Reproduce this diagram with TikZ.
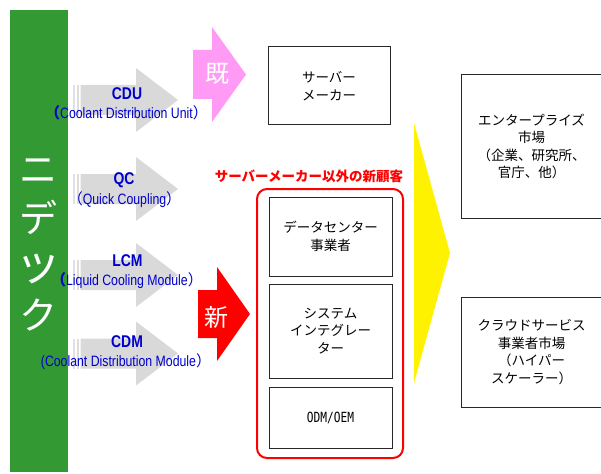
\documentclass[tikz,border=0pt]{standalone}
\usepackage{fontspec}
\setmainfont{Liberation Sans}
\newfontfamily\jp{Noto Sans CJK JP}
\newfontfamily\narrowsans[FakeStretch=0.82]{Liberation Sans}
\newfontfamily\odmfont[FakeStretch=0.8]{DejaVu Sans Mono}
\definecolor{nidecgreen}{RGB}{51,153,51}
\definecolor{arrowgray}{RGB}{217,217,217}
\definecolor{pinkc}{RGB}{255,155,245}
\definecolor{lblblue}{RGB}{0,0,204}
\definecolor{boxline}{RGB}{40,40,40}
\begin{document}
\begin{tikzpicture}[x=1pt,y=-1pt,
  abbr/.style={font=\narrowsans\bfseries\fontsize{17}{17}\selectfont, text=lblblue, inner sep=0pt},
  subl/.style={font=\narrowsans\fontsize{15}{15}\selectfont, text=lblblue, inner sep=0pt},
  jbox/.style={draw=boxline, line width=1pt, align=center, fill=white,
    font=\jp\fontsize{13.5}{17.5}\selectfont, inner sep=0pt},
  bigkanji/.style={font=\jp\fontsize{24}{24}\selectfont, text=white, inner sep=0pt},
  groupbox/.style={draw=red, line width=2pt, rounded corners=10pt, inner sep=0pt}
]
\useasboundingbox (0,0) rectangle (601,473);
% green bar
\fill[nidecgreen] (10,10) rectangle (68,472);
\node[font=\jp\fontsize{38}{48.5}\selectfont, text=white, align=center, inner sep=0pt] (nidec) at (39,245) {ニ\\デ\\{\fontsize{46}{48.5}\selectfont ッ}\\ク};
% gray arrows
\foreach \cy in {100,189,275,353.5}{
  \fill[arrowgray!80] (73,\cy-15) rectangle (75,\cy+15);
  \fill[arrowgray!90] (76.5,\cy-15) rectangle (79,\cy+15);
  \fill[arrowgray] (80.5,\cy-15) -- (136,\cy-15) -- (136,\cy-32) -- (178,\cy)
     -- (136,\cy+32) -- (136,\cy+15) -- (80.5,\cy+15) -- cycle;
}
\node[abbr] (cdu) at (127,93.5) {CDU};
\node[subl] (cdusub) at (126.5,112.5) {{\jp\bfseries （}Coolant Distribution Unit{\jp ）}};
\node[abbr] (qc) at (124,180) {QC};
\node[subl] (qcsub) at (124.5,199.5) {{\jp （}Quick Coupling{\jp ）}};
\node[abbr] (lcm) at (127.5,261) {LCM};
\node[subl] (lcmsub) at (127,281) {{\jp\bfseries （}Liquid Cooling Module{\jp ）}};
\node[abbr] (cdm) at (127,342) {CDM};
\node[subl] (cdmsub) at (126,361.5) {(Coolant Distribution Module{\jp ）}};
% pink arrow
\fill[pinkc] (193,50) -- (212,50) -- (212,27) -- (246,74.5) -- (212,122) -- (212,99) -- (193,99) -- cycle;
\node[bigkanji] (ki) at (217,74) {既};
% red arrow
\fill[red] (198,290) -- (217,290) -- (217,267) -- (250,314) -- (217,361) -- (217,338) -- (198,338) -- cycle;
\node[bigkanji] (shin) at (216.5,317) {新};
% server maker box
\node[jbox, minimum width=122pt, minimum height=78pt] (server) at (329,86) {サーバー\\メーカー};
% red label and group
\node[font=\jp\bfseries\fontsize{13.5}{13.5}\selectfont, text=red, inner sep=0pt] (newcust) at (309,176) {サーバーメーカー以外の新顧客};
\node[groupbox, minimum width=146pt, minimum height=269pt] (grp) at (330,323.5) {};
\node[jbox, minimum width=123pt, minimum height=79pt] (dc) at (330.5,236.5) {データセンター\\事業者};
\node[jbox, minimum width=123pt, minimum height=94pt] (si) at (330.5,331) {システム\\インテグレー\\ター};
\node[jbox, minimum width=123pt, minimum height=61pt, font=\odmfont\fontsize{14}{14}\selectfont] (odm) at (330.5,417.5) {ODM/OEM};
% yellow triangle
\fill[yellow] (414,123) -- (450,253) -- (414,383) -- cycle;
% markets
\node[jbox, minimum width=141pt, minimum height=143pt] (ent) at (531.5,146.5) {エンタープライズ\\市場\\（企業、研究所、\\官庁、他）};
\node[jbox, minimum width=141pt, minimum height=110pt] (cloud) at (531.5,352) {クラウドサービス\\事業者市場\\（ハイパー\\スケーラー）};
\end{tikzpicture}
\end{document}
